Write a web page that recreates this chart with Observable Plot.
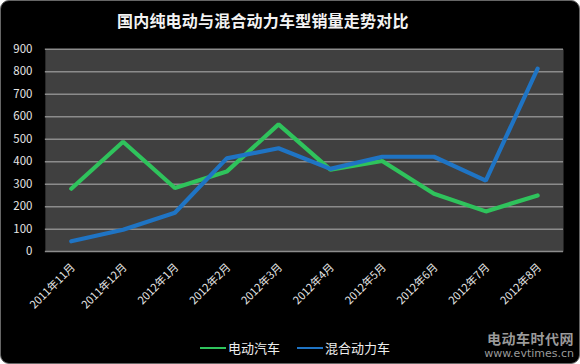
<!DOCTYPE html>
<html><head><meta charset="utf-8">
<script src="https://cdn.jsdelivr.net/npm/d3@7"></script>
<script src="https://cdn.jsdelivr.net/npm/@observablehq/plot@0.6"></script>
<style>
html,body{margin:0;padding:0;background:#fff;}
#wrap{position:relative;width:578px;height:362px;background:#000;border:1px solid #666;border-radius:9px;overflow:hidden;font-family:"Noto Sans CJK SC","DejaVu Sans",sans-serif;}
#wrap svg{position:absolute;left:-1px;top:-1px;}
#title{position:absolute;left:116px;top:9px;white-space:nowrap;color:#f2f2f2;font-size:16px;font-weight:bold;letter-spacing:0.2px;line-height:20px;}
#legend{position:absolute;top:337px;left:199px;color:#eee;font-size:13px;display:flex;align-items:center;}
.sw{display:inline-block;width:26px;height:2px;margin-right:2px;}
#wm{position:absolute;right:5px;top:329px;color:#9a9a9a;text-align:right;}
#wm .a{font-size:14px;font-weight:bold;line-height:17px;letter-spacing:0.5px;}
#wm .b{font-size:11px;line-height:13px;font-family:"DejaVu Sans",sans-serif;}
</style></head>
<body>
<div id="wrap">
<div id="title">国内纯电动与混合动力车型销量走势对比</div>
<div id="legend"><span class="sw" style="background:#2fc35c"></span><span>电动汽车</span><span style="width:17px;display:inline-block"></span><span class="sw" style="background:#1f74c4"></span><span>混合动力车</span></div>
<div id="wm"><div class="a">电动车时代网</div><div class="b">www.evtimes.cn</div></div>
</div>
<script>
const months = ["2011年11月","2011年12月","2012年1月","2012年2月","2012年3月","2012年4月","2012年5月","2012年6月","2012年7月","2012年8月"];
const electric = [280, 489, 283, 356, 566, 365, 403, 257, 179, 250];
const hybrid = [46, 97, 173, 415, 460, 368, 422, 422, 316, 814];
const yTicks = [0,100,200,300,400,500,600,700,800,900];
const seriesNames = ["电动汽车","混合动力车"];
const colors = ["#2fc35c","#1f74c4"];

const data = [];
months.forEach((m,i)=>{
  data.push({month:m, value:electric[i], series:seriesNames[0]});
  data.push({month:m, value:hybrid[i], series:seriesNames[1]});
});

const chart = Plot.plot({
  width:580, height:364,
  marginLeft:45, marginRight:15, marginTop:49, marginBottom:112,
  style:{background:"transparent", color:"#e6e6e6", fontFamily:"'Noto Sans CJK SC', 'DejaVu Sans', sans-serif"},
  x:{type:"point", domain:months, padding:0.5, label:null},
  y:{domain:[0,900], label:null},
  color:{domain:seriesNames, range:colors},
  marks:[
    Plot.frame({fill:"#404040", stroke:null}),
    Plot.ruleY(yTicks, {stroke:"#8c8c8c", strokeWidth:1.5}),
    Plot.axisY(yTicks, {tickSize:0, tickPadding:13, fontSize:11.5, fill:"#e6e6e6", label:null}),
    Plot.axisX({tickSize:0, tickRotate:-45, tickPadding:14, fontSize:11, fill:"#e6e6e6", textAnchor:"end", label:null, dx:2}),
    Plot.line(data, {x:"month", y:"value", z:"series", stroke:"series", strokeWidth:4.2, strokeLinejoin:"miter", strokeLinecap:"round"})
  ]
});
document.getElementById("wrap").prepend(chart);
</script>
</body></html>
